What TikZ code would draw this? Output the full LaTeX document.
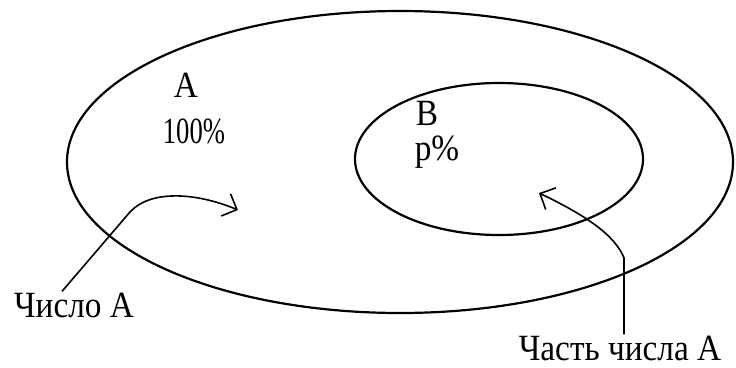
\documentclass[tikz,border=0pt]{standalone}
\usepackage{fontspec}
\setmainfont{Liberation Serif}
\newfontfamily\narrowserif[FakeStretch=0.9]{Liberation Serif}
\usetikzlibrary{shapes.geometric, arrows.meta}

\begin{document}
\begin{tikzpicture}[x=1pt, y=-1pt,
        region/.style={ellipse, draw=black, line width=2.2pt, inner sep=0pt},
        word/.style={font=\narrowserif\fontsize{37}{40}\selectfont, inner sep=1pt, anchor=base},
        pointer/.style={-{Straight Barb[length=12pt, width=24pt]}, line width=1.6pt}
    ]
    \useasboundingbox (0,0) rectangle (736,367);

    \node (setA) [region, minimum width=666pt, minimum height=302pt] at (400,162) {};
    \node (setB) [region, minimum width=288pt, minimum height=152pt] at (499,159) {};

    \node (nameA) [word] at (186,97) {А};
    \node (fullA) [word] at (194,143) {\scalebox{0.8}[1]{100\%}};
    \node (nameB) [word] at (427,125) {В};
    \node (partB) [word] at (437,160) {p\%};

    \node (numA) [word] at (74,317) {Число А};
    \node (partA) [word] at (620,360) {Часть числа А};

    \coordinate (tipA) at (238,210);
    \coordinate (tipB) at (539,193);

    \draw [pointer] ([xshift=-12pt]numA.north) -- (130,212) .. controls (150,190) and (195,192) .. (tipA);
    \draw [pointer] ([xshift=4pt]partA.north) -- (624,258) .. controls (615,235) and (585,215) .. (tipB);
\end{tikzpicture}
\end{document}
